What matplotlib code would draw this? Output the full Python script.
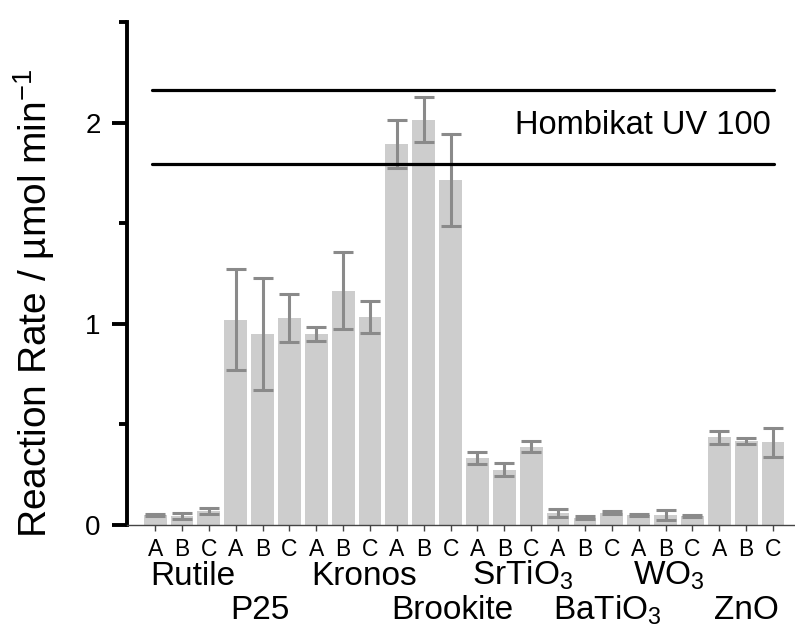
import numpy as np
import matplotlib
matplotlib.use('Agg')
import matplotlib.pyplot as plt

plt.rcParams['font.family'] = ['Liberation Sans', 'DejaVu Sans']
plt.rcParams['mathtext.fontset'] = 'custom'
plt.rcParams['mathtext.rm'] = 'Liberation Sans'
plt.rcParams['mathtext.it'] = 'Liberation Sans:italic'

groups = ['Rutile', 'P25', 'Kronos', 'Brookite', r'SrTiO$_3$', r'BaTiO$_3$', r'WO$_3$', 'ZnO']
samples = ['A', 'B', 'C']
rate = [0.05, 0.045, 0.07,
        1.02, 0.95, 1.03,
        0.95, 1.165, 1.035,
        1.895, 2.015, 1.715,
        0.335, 0.275, 0.39,
        0.058, 0.037, 0.062,
        0.05, 0.05, 0.047,
        0.435, 0.418, 0.412]
err = [0.005, 0.015, 0.013,
       0.25, 0.28, 0.12,
       0.035, 0.19, 0.08,
       0.12, 0.11, 0.23,
       0.03, 0.033, 0.028,
       0.02, 0.008, 0.007,
       0.004, 0.026, 0.005,
       0.034, 0.013, 0.072]
hombikat = [1.795, 2.16]
hombikat_label = 'Hombikat UV 100'

x = np.arange(len(rate))

fig = plt.figure(figsize=(7.95, 6.28), dpi=100)
ax = fig.add_axes([0.160, 0.164, 0.840, 0.801])

ax.bar(x, rate, width=0.85, color='#cdcdcd', zorder=1)
ax.errorbar(x, rate, yerr=err, fmt='none', ecolor='#8a8a8a', elinewidth=2.2,
            capsize=7, capthick=2.2, zorder=2)

ax.hlines(hombikat, -0.1, 23.05, colors='black', lw=2.3, capstyle='round', zorder=3)
ax.text(22.9, np.mean(hombikat) + 0.01, hombikat_label, ha='right', va='center', fontsize=23.5)

ax.set_xlim(-1.04, 23.82)
ax.set_ylim(0, 2.5)

ax.spines['top'].set_visible(False)
ax.spines['right'].set_visible(False)
ax.spines['left'].set_linewidth(2.8)
ax.spines['bottom'].set_linewidth(1.0)
ax.spines['bottom'].set_color('#444444')

ax.set_yticks([0, 1, 2])
ax.set_yticks([0.5, 1.5, 2.5], minor=True)
ax.tick_params(axis='y', which='major', length=11, width=2.8, labelsize=20, pad=8)
ax.tick_params(axis='y', which='minor', length=6, width=2.8)

ax.set_xticks(x)
ax.set_xticklabels(samples * len(groups))
ax.tick_params(axis='x', length=4, width=1, color='#444444', labelsize=16.5, pad=5)

for i, g in enumerate(groups):
    row = i % 2
    ax.text(3 * i - 0.2, -0.298 - row * 0.17, g, ha='left', va='baseline',
            fontsize=24, transform=ax.transData, clip_on=False)

ax.set_ylabel(r'Reaction Rate / µmol min$^{-1}$', fontsize=28)
ax.yaxis.set_label_coords(-0.105, 0.44)

fig.savefig('out.png', dpi=100)
